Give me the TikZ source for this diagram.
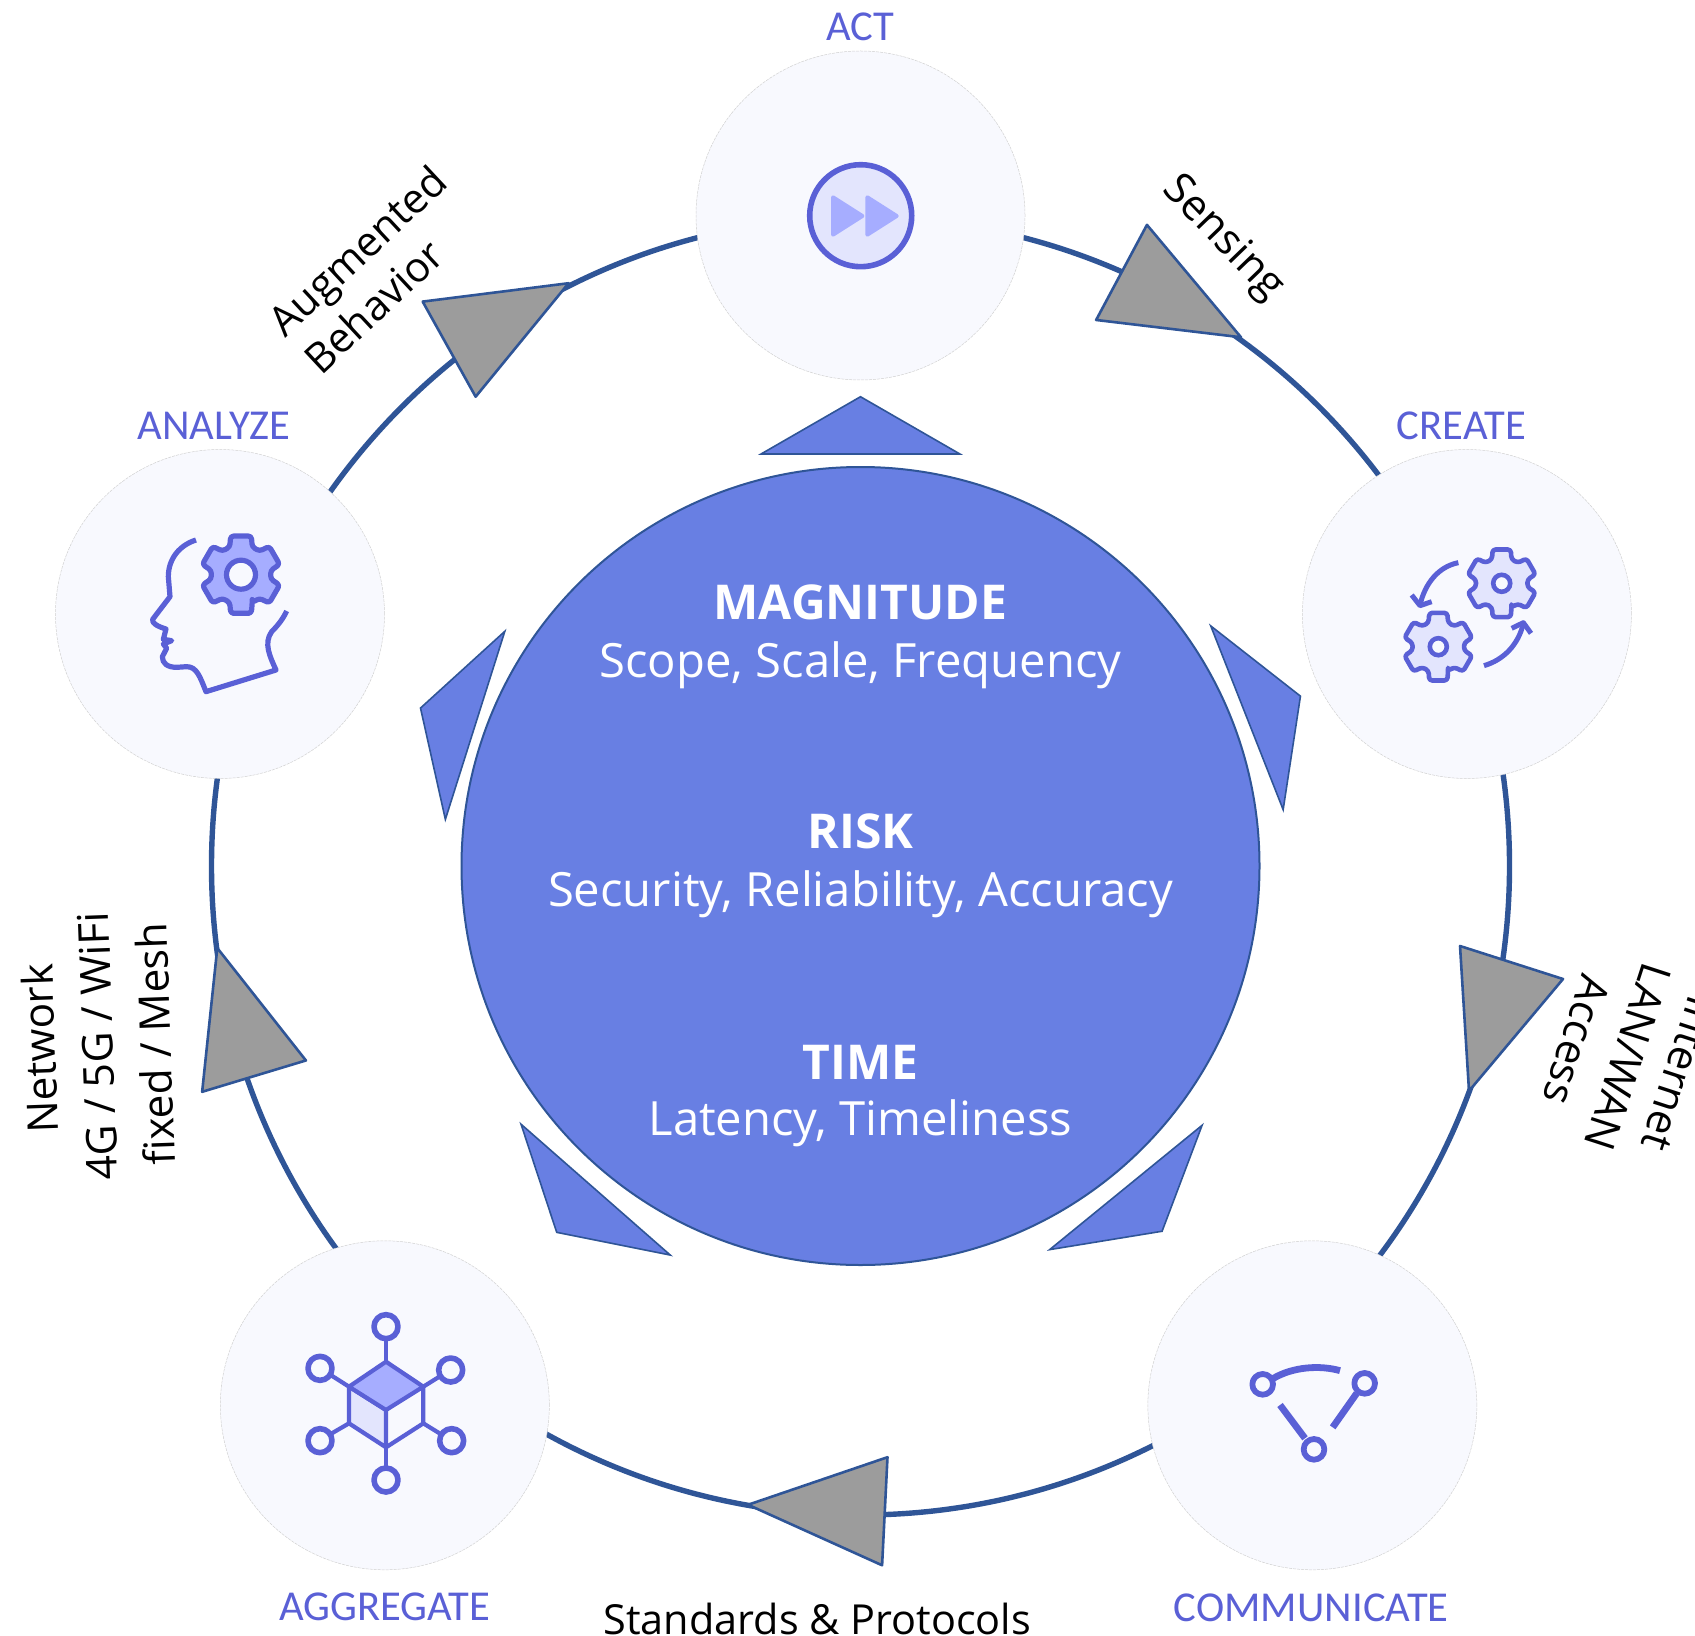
\documentclass[tikz,border=0pt]{standalone}
\usepackage{fontspec}
\setmainfont{Open Sans}
\newfontfamily\labelfont{Carlito}
\definecolor{edgeblue}{HTML}{2F5597}
\definecolor{coreblue}{HTML}{687FE3}
\definecolor{arrowgrey}{HTML}{9C9C9C}
\definecolor{iconblue}{HTML}{5A60D6}
\definecolor{iconmid}{HTML}{A6ADFF}
\definecolor{iconlight}{HTML}{E3E5FD}
\definecolor{disc}{HTML}{F8F9FE}
\tikzset{
  ringline/.style={circle,draw=edgeblue,line width=2.7pt,minimum size=649pt,inner sep=0pt},
  core/.style={circle,draw=edgeblue,line width=1pt,fill=coreblue,minimum size=399pt,inner sep=0pt},
  stage/.style={circle,draw=black!18,line width=.25pt,dash pattern=on 1.5pt off .5pt,fill=disc,minimum size=164.5pt,inner sep=0pt},
  stagelabel/.style={text=iconblue,font=\labelfont\fontsize{21.3}{25}\selectfont,inner sep=0pt},
  corehead/.style={text=white,font=\fontsize{24}{28}\selectfont\bfseries,inner sep=0pt},
  coretext/.style={text=white,font=\fontsize{23.6}{28}\selectfont,inner sep=0pt},
  note/.style={text=black,font=\fontsize{20.7}{27}\selectfont,align=center,inner sep=0pt},
  greyhead/.style={draw=edgeblue,line width=1.3pt,fill=arrowgrey,line join=round},
  bluehead/.style={draw=edgeblue,line width=.8pt,fill=coreblue,line join=miter},
  icon/.style={draw=iconblue,line width=2.6pt,line join=round},
  thinicon/.style={draw=iconblue,line width=2.1pt,line join=round},
}
\newcommand{\cogshape}[7]{% cx cy R r hole fill width
  \begin{scope}[shift={(#1,#2)}]
    \draw[draw=iconblue,line width=#7,fill=#6,line join=round,rounded corners=1.5pt]
      (68:#4) \foreach \a in {90,150,210,270,330,390} { -- ({\a-15}:#3) -- ({\a+15}:#3) -- ({\a+22}:#4) -- ({\a+38}:#4) } -- cycle;
    \draw[draw=iconblue,line width=#7,fill=disc] (0,0) circle [radius=#5];
  \end{scope}}
\begin{document}
\begin{tikzpicture}[x=.5pt,y=-.5pt]
\useasboundingbox (0,0) rectangle (1695,1636);
\clip (0,0) rectangle (1695,1636);
\node[ringline] (ring) at (860.5,866) {};
\node[core] (corecircle) at (860.5,866) {};
\node[stage] (act) at (860.5,215.5) {};
\begin{scope}[scale=1.081]
\node[stage] (create) at (1357,568) {};
\node[stage] (communicate) at (1214,1300) {};
\node[stage] (aggregate) at (356,1300) {};
\node[stage] (analyze) at (203.5,568) {};
% stage labels
\node[stagelabel] (lact) at (796,25) {ACT};
\node[stagelabel] (lcreate) at (1352,394) {CREATE};
\node[stagelabel] (lanalyze) at (198,394) {ANALYZE};
\node[stagelabel] (laggregate) at (356,1486) {AGGREGATE};
\node[stagelabel] (lcommunicate) at (1213,1487) {COMMUNICATE};
% grey heads
\draw[greyhead] (1061,208) -- (1014,296) -- (1148,312) -- cycle;
\draw[greyhead] (391,279) -- (440,367) -- (526,262) -- cycle;
\draw[greyhead] (821,1348) -- (816,1448) -- (692,1392) -- cycle;
\draw[greyhead] (201,877) -- (283,981) -- (187,1010) -- cycle;
% blue heads
\draw[bluehead] (796,367) -- (888,420) -- (704,420) -- cycle;
\draw[bluehead] (1120,579) -- (1203,644) -- (1187,749) -- cycle;
\draw[bluehead] (1112,1041) -- (1075,1139) -- (971,1156) -- cycle;
\draw[bluehead] (482,1040) -- (515,1140) -- (620,1161) -- cycle;
\draw[bluehead] (467,584) -- (389,655) -- (412,758) -- cycle;
% core text
\node[corehead] (tmag) at (796,557) {MAGNITUDE};
\node[coretext] (tmag2) at (796,615) {Scope, Scale, Frequency};
\node[corehead] (trisk) at (796,769) {RISK};
\node[coretext] (trisk2) at (796,827) {Security, Reliability, Accuracy};
\node[corehead] (ttime) at (796,983) {TIME};
\node[coretext] (ttime2) at (796,1039) {Latency, Timeliness};
% notes
\node[note,rotate=-46,font=\fontsize{21.3}{27}\selectfont] (nsensing) at (1131,221) {Sensing};
\node[note,rotate=43,align=left,font=\fontsize{20.7}{26}\selectfont] (naug) at (347,249) {Augmented\\Behavior};
\node[note] (nstd) at (756,1498) {Standards \& Protocols};
\node[note,rotate=92,font=\fontsize{21.2}{29}\selectfont] (nnet) at (90,968) {Network\\4G / 5G / WiFi\\fixed / Mesh};
\end{scope}
\draw[greyhead] (1460,946) -- (1563,979) -- (1469,1091) -- cycle;
\node[note,rotate=-108,font=\fontsize{21.3}{27}\selectfont] (ninternet) at (1628,1057) {Internet\\LAN/WAN\\Access};
% ACT icon
\draw[icon,fill=iconlight,line width=2.8pt] (860.7,215.7) circle [radius=51];
\begin{scope}[shift={(700,0)},scale=1/3]
  \draw[iconmid,fill=iconmid,line width=2pt,line join=round] (399,592) -- (399,704) -- (487,648) -- cycle;
  \draw[iconmid,fill=iconmid,line width=2pt,line join=round] (502,592) -- (502,704) -- (590,648) -- cycle;
\end{scope}
% ANALYZE icon
\cogshape{241}{574.7}{40}{30}{14.5}{iconmid}{2.6pt}
\begin{scope}[shift={(80,480)},scale=1/3]
  \draw[icon,line width=2.6pt] (348,180) .. controls (300,195) and (265,235) .. (265,290)
    -- (270,350) -- (218,418) .. controls (214,430) and (235,440) .. (258,447)
    -- (250,478) -- (275,482) -- (250,492) -- (260,505) -- (247,530)
    .. controls (247,550) and (262,562) .. (290,562) -- (320,560)
    .. controls (350,560) and (360,590) .. (378,635) -- (588,570)
    .. controls (570,530) and (550,490) .. (575,455) .. controls (595,435) and (610,415) .. (620,393);
\end{scope}
% CREATE icon
\cogshape{1501.7}{583.3}{35}{26}{8.5}{iconlight}{2.3pt}
\cogshape{1438.3}{646.7}{35}{26}{8.5}{iconlight}{2.3pt}
\begin{scope}[shift={(1370,510)},scale=1/3]
  \draw[thinicon,line width=2.5pt] (265,158) .. controls (205,170) and (165,220) .. (150,285);
  \draw[thinicon,line width=2.5pt] (125,255) -- (150,287) -- (185,275);
  \draw[thinicon,line width=2.5pt] (342,467) .. controls (400,450) and (445,405) .. (460,340);
  \draw[thinicon,line width=2.5pt] (425,355) -- (460,338) -- (483,370);
\end{scope}
% AGGREGATE icon
\begin{scope}[shift={(280,1290)},scale=1/3]
  \draw[thinicon,fill=iconlight] (207,290) -- (318,360) -- (318,472) -- (207,400) -- cycle;
  \draw[thinicon,fill=iconmid] (318,215) -- (430,290) -- (318,360) -- (207,290) -- cycle;
  \draw[thinicon] (430,290) -- (430,400) -- (318,472);
  \draw[thinicon] (318,215) -- (318,146);
  \draw[thinicon] (318,472) -- (318,535);
  \draw[thinicon] (430,290) -- (478,260);
  \draw[thinicon] (430,400) -- (482,432);
  \draw[thinicon] (207,290) -- (152,255);
  \draw[thinicon] (207,400) -- (152,432);
  \foreach \p in {(318,110),(512,240),(515,452),(318,570),(120,452),(120,235)}
    \draw[thinicon,line width=2.8pt] \p circle [radius=36];
\end{scope}
% COMMUNICATE icon
\begin{scope}[shift={(1220,1340)},scale=1/3]
  \draw[icon,line width=3.4pt] (160,115) .. controls (220,80) and (300,75) .. (360,92);
  \draw[icon,line width=3.4pt] (180,195) -- (255,295);
  \draw[icon,line width=3.4pt] (338,262) -- (410,160);
  \foreach \p in {(128,133),(434,130),(282,328)}
    \draw[icon,line width=2.9pt] \p circle [radius=31];
\end{scope}
\end{tikzpicture}
\end{document}
